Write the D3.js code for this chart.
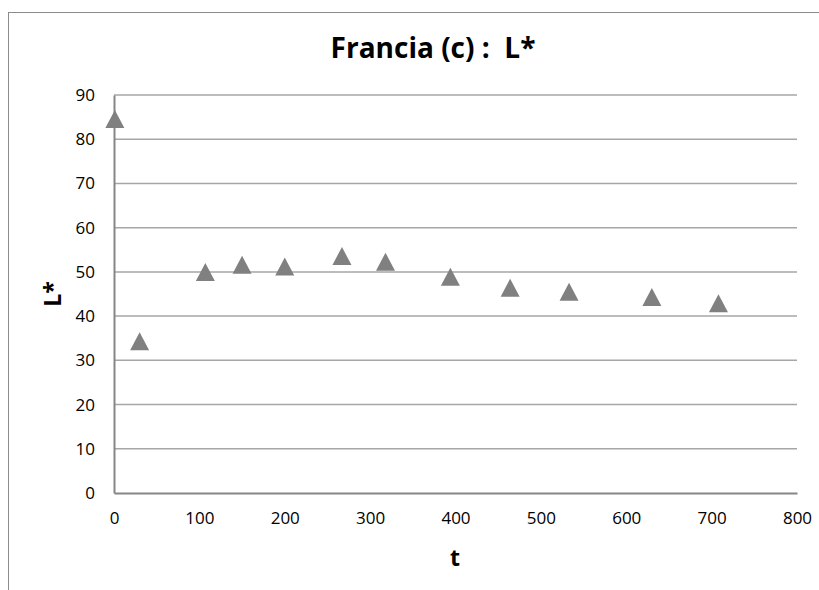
<!DOCTYPE html>
<html>
<head>
<meta charset="utf-8">
<script src="https://cdn.jsdelivr.net/npm/d3@7"></script>
<style>
  body { margin: 0; background: #fff; }
  svg { display: block; }
</style>
</head>
<body>
<div id="chart"></div>
<script>
// data
var tValues = [1, 30, 107, 150, 200, 267, 318, 394, 464, 533, 630, 708];
var lValues = [84.6, 34.3, 50.0, 51.6, 51.2, 53.6, 52.3, 48.9, 46.4, 45.5, 44.3, 42.9];
var xTicks = [0, 100, 200, 300, 400, 500, 600, 700, 800];
var yTicks = [0, 10, 20, 30, 40, 50, 60, 70, 80, 90];
var chartTitle = "Francia (c) :  L*";
var xTitle = "t";
var yTitle = "L*";

var width = 819, height = 590;
var margin = {left: 114, right: 22, top: 95, bottom: 97};

var svg = d3.select("#chart").append("svg")
    .attr("width", width).attr("height", height);

// outer chart frame (runs off the right and bottom edge)
svg.append("rect")
    .attr("x", 8.5).attr("y", 12.5)
    .attr("width", width + 20).attr("height", height + 20)
    .attr("fill", "none").attr("stroke", "#8c8c8c").attr("stroke-width", 1);

var x = d3.scaleLinear().domain([0, 800]).range([margin.left, width - margin.right]);
var y = d3.scaleLinear().domain([0, 90]).range([height - margin.bottom, margin.top]);

// gridlines
svg.append("g").selectAll("line")
    .data(yTicks.filter(d => d > 0))
    .enter().append("line")
    .attr("x1", x(0)).attr("x2", x(800))
    .attr("y1", d => y(d)).attr("y2", d => y(d))
    .attr("stroke", "#a6a6a6").attr("stroke-width", 1.5);

// axes
var xAxis = svg.append("g")
    .attr("transform", "translate(0," + y(0) + ")")
    .call(d3.axisBottom(x).tickValues(xTicks).tickSize(0).tickPadding(19));
var yAxis = svg.append("g")
    .attr("transform", "translate(" + x(0) + ",0)")
    .call(d3.axisLeft(y).tickValues(yTicks).tickSize(0).tickPadding(19));

[xAxis, yAxis].forEach(function(a) {
  a.select(".domain").attr("stroke", "#868686").attr("stroke-width", 2);
  a.selectAll("text")
      .attr("font-family", "'Open Sans', sans-serif")
      .attr("font-size", 17)
      .attr("fill", "#000");
});

// triangle markers, centred on their bounding box
var tri = "M0,-9L9.5,9L-9.5,9Z";
svg.append("g").selectAll("path")
    .data(tValues.map((t, i) => ({t: t, v: lValues[i]})))
    .enter().append("path")
    .attr("d", tri)
    .attr("transform", d => "translate(" + x(d.t) + "," + y(d.v) + ")")
    .attr("fill", "#808080");

// titles
svg.append("text")
    .attr("x", 433).attr("y", 58)
    .attr("text-anchor", "middle")
    .attr("xml:space", "preserve")
    .style("white-space", "pre")
    .attr("font-family", "'Open Sans', sans-serif")
    .attr("font-weight", "bold")
    .attr("font-size", 28)
    .text(chartTitle);

svg.append("text")
    .attr("x", 455).attr("y", 566)
    .attr("text-anchor", "middle")
    .attr("font-family", "'Open Sans', sans-serif")
    .attr("font-weight", "bold")
    .attr("font-size", 23)
    .text(xTitle);

svg.append("text")
    .attr("transform", "translate(61,294) rotate(-90)")
    .attr("text-anchor", "middle")
    .attr("font-family", "'Open Sans', sans-serif")
    .attr("font-weight", "bold")
    .attr("font-size", 23)
    .text(yTitle);
</script>
</body>
</html>
